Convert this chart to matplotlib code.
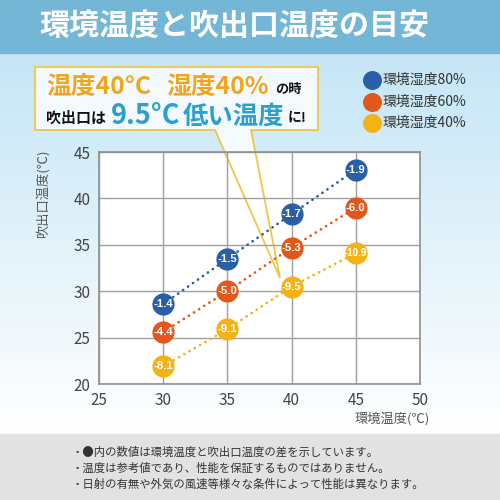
import matplotlib
matplotlib.use("Agg")
import matplotlib.pyplot as plt
import numpy as np
from matplotlib.patches import Polygon, Rectangle

plt.rcParams['font.family'] = ['Noto Sans CJK JP', 'DejaVu Sans']

# ---- data ----
env_temp = [30, 35, 40, 45]
series_names = ['環境湿度80%', '環境湿度60%', '環境湿度40%']
outlet_80 = [28.6, 33.5, 38.3, 43.1]
outlet_60 = [25.6, 30.0, 34.7, 39.0]
outlet_40 = [21.9, 25.9, 30.5, 34.1]
diff_80 = ['-1.4', '-1.5', '-1.7', '-1.9']
diff_60 = ['-4.4', '-5.0', '-5.3', '-6.0']
diff_40 = ['-8.1', '-9.1', '-9.5', '-10.9']
colors = ['#2a5ea8', '#e2581a', '#f4b214']
xticks = [25, 30, 35, 40, 45, 50]
yticks = [20, 25, 30, 35, 40, 45]
title = '環境温度と吹出口温度の目安'
notes = ['・●内の数値は環境温度と吹出口温度の差を示しています。',
         '・温度は参考値であり、性能を保証するものではありません。',
         '・日射の有無や外気の風速等様々な条件によって性能は異なります。']

W, H = 500, 500
fig = plt.figure(figsize=(5, 5), dpi=100)

# background axes in pixel coordinates
bg = fig.add_axes([0, 0, 1, 1], zorder=0)
bg.set_xlim(0, W)
bg.set_ylim(H, 0)
bg.axis('off')

# gradient background
grad = np.linspace(0, 1, 256)[:, None]
top = np.array([0.77, 0.90, 0.965])
bot = np.array([1.0, 1.0, 1.0])
img = top[None, None, :] * (1 - grad[:, :, None]) + bot[None, None, :] * grad[:, :, None]
bg.imshow(img, extent=[0, W, 430, 53], aspect='auto', zorder=0)
# title band
bg.add_patch(Rectangle((0, 0), W, 53, color='#74b6d5', zorder=1))
bg.text(234, 26, title, color='white', fontsize=21.6, fontweight='bold',
        ha='center', va='center', zorder=2)
# bottom notes box
bg.add_patch(Rectangle((0, 434), W, 66, color='#e2e2e2', zorder=1))
for i, n in enumerate(notes):
    bg.text(71, 452 + i * 16, n, fontsize=8.2, color='#333333',
            ha='left', va='center', zorder=2)

# legend
for i, (name, c) in enumerate(zip(series_names, colors)):
    y = 80 + i * 21.5
    bg.scatter([372], [y], s=160, color=c, zorder=3)
    bg.text(383, y, name, fontsize=10, color='#333333', ha='left', va='center', zorder=3)

# y label
fig.text(43 / W, 1 - 150 / H, '吹出口温度(℃)', rotation=90, fontsize=9.5,
         color='#555555', ha='center', va='top')

# main axes
ax = fig.add_axes([99 / W, 1 - 384 / H, (420 - 99) / W, (384 - 152) / H], zorder=1)
ax.set_facecolor('white')
ax.set_xlim(25, 50)
ax.set_ylim(20, 45)
ax.set_xticks(xticks)
ax.set_yticks(yticks)
ax.grid(True, color='#a0a0a0', linewidth=1.0)
ax.tick_params(length=0, labelsize=11, labelcolor='#444444', pad=6)
for s in ax.spines.values():
    s.set_color('#909090')
    s.set_linewidth(1.2)

# callout with pointer (decoration, pixel coords)
callout = Polygon([(35, 67), (318, 67), (318, 130), (251, 130), (280, 278),
                   (215, 130), (35, 130)], closed=True,
                  facecolor=(1, 1, 1, 0.8), edgecolor='#f0c54a', linewidth=1.3,
                  transform=bg.transData, clip_on=False, zorder=1)
ax.add_patch(callout)

series = [(outlet_80, diff_80), (outlet_60, diff_60), (outlet_40, diff_40)]
for (vals, diffs), c in zip(series, colors):
    ax.plot(env_temp, vals, color=c, linewidth=1.9, linestyle=(0, (0.1, 2.2)),
            dash_capstyle='round', zorder=3, clip_on=False)
    ax.plot(env_temp, vals, 'o', color=c, markersize=16, markeredgewidth=0,
            zorder=4, clip_on=False)
    for x, y, d in zip(env_temp, vals, diffs):
        fs = 7.0 if len(d) > 4 else 8.2
        ax.text(x, y, d, color='white', fontsize=fs, fontweight='bold',
                ha='center', va='center', zorder=5, family='Liberation Sans')

ax.text(1.03, -0.12, '環境温度(℃)', transform=ax.transAxes, fontsize=9.5,
        color='#555555', ha='right', va='top')

# callout text (pixel coords, drawn above the callout)
def ctext(x, y, s, color, fs):
    ax.text(x, y, s, color=color, fontsize=fs, fontweight='bold', ha='left',
            va='center', transform=bg.transData, clip_on=False, zorder=6)

ctext(46, 87, '温度40°C', '#f0a51c', 17.8)
ctext(166, 87, '湿度40%', '#f0a51c', 17.8)
ctext(275, 89, 'の時', '#111111', 9.5)
ctext(46, 118, '吹出口は', '#111111', 10.8)
ctext(111, 116, '9.5°C', '#2a9fd0', 19.5)
ctext(183, 116, '低い温度', '#2a9fd0', 18.3)
ctext(288, 118, 'に!', '#111111', 10)

fig.savefig('out.png', dpi=100)
